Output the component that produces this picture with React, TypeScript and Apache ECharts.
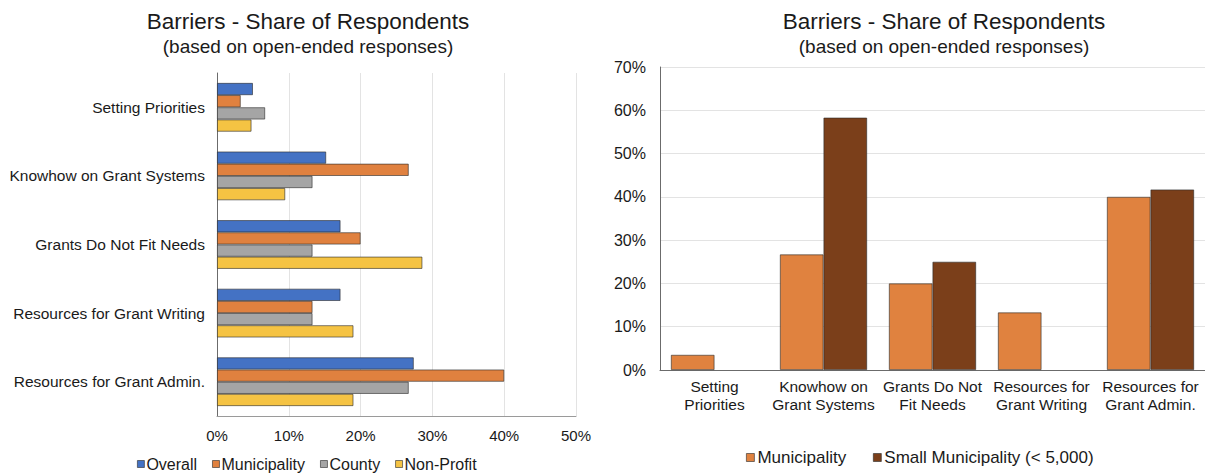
import React, { useEffect, useRef } from "react";
import * as echarts from "echarts";

// Barrier categories (left: horizontal bars, right: column chart)
const barrierLabels = [
  "Setting Priorities",
  "Knowhow on Grant Systems",
  "Grants Do Not Fit Needs",
  "Resources for Grant Writing",
  "Resources for Grant Admin.",
];
const barrierLabelsWrapped = [
  "Setting\nPriorities",
  "Knowhow on\nGrant Systems",
  "Grants Do Not\nFit Needs",
  "Resources for\nGrant Writing",
  "Resources for\nGrant Admin.",
];

// Share of respondents (%) by respondent type
const overall = [5.0, 15.2, 17.2, 17.2, 27.4];
const municipality = [3.3, 26.7, 20.0, 13.3, 40.0];
const county = [6.7, 13.3, 13.3, 13.3, 26.7];
const nonProfit = [4.8, 9.5, 28.6, 19.0, 19.0];

// Municipality vs. small municipalities (%)
const municipalityRight = [3.5, 26.7, 20.0, 13.3, 40.0];
const smallMunicipality = [0, 58.3, 25.0, 0, 41.7];

const xTicksLeft = { min: 0, max: 50, interval: 10 };
const yTicksRight = { min: 0, max: 70, interval: 10 };

const FONT = "'Liberation Sans', Arial, Helvetica, sans-serif";
const TEXT = "#1a1a1a";
const GRID = "#e3e3e3";
const AXIS = "#6b6b6b";
const BORDER = "rgba(40,40,40,0.75)";

// zero shares have no bar at all
const bars = (values: number[]) => values.map((v) => (v === 0 ? null : v));

export default function App() {
  const ref = useRef<HTMLDivElement>(null);

  useEffect(() => {
    if (!ref.current) return;
    const chart = echarts.init(ref.current, null, { renderer: "svg" });

    const leftSeries = [
      { name: "Overall", data: overall, color: "#4472C4" },
      { name: "Municipality", data: municipality, color: "#E0813F" },
      { name: "County", data: county, color: "#A5A5A5" },
      { name: "Non-Profit", data: nonProfit, color: "#F5C343" },
    ].map((s) => ({
      type: "bar" as const,
      name: s.name,
      xAxisIndex: 0,
      yAxisIndex: 0,
      data: bars(s.data),
      barGap: "0%",
      barCategoryGap: "29%",
      itemStyle: { color: s.color, borderColor: BORDER, borderWidth: 0.8 },
    }));

    const rightSeries = [
      { name: "Municipality ", data: municipalityRight, color: "#E0823F" },
      { name: "Small Municipality (< 5,000)", data: smallMunicipality, color: "#7B3F1A" },
    ].map((s) => ({
      type: "bar" as const,
      name: s.name,
      xAxisIndex: 1,
      yAxisIndex: 1,
      data: bars(s.data),
      barGap: "0%",
      barCategoryGap: "20%",
      itemStyle: { color: s.color, borderColor: BORDER, borderWidth: 0.8 },
    }));

    const titleStyle = { fontFamily: FONT, fontSize: 22.5, fontWeight: "normal" as const, color: TEXT };
    const subStyle = { fontFamily: FONT, fontSize: 19, color: TEXT };

    chart.setOption({
      animation: false,
      backgroundColor: "#ffffff",
      textStyle: { fontFamily: FONT, color: TEXT },
      title: [
        {
          text: "Barriers - Share of Respondents",
          subtext: "(based on open-ended responses)",
          left: 303,
          top: 5,
          textAlign: "center",
          itemGap: 4,
          textStyle: titleStyle,
          subtextStyle: subStyle,
        },
        {
          text: "Barriers - Share of Respondents",
          subtext: "(based on open-ended responses)",
          left: 939,
          top: 5,
          textAlign: "center",
          itemGap: 4,
          textStyle: titleStyle,
          subtextStyle: subStyle,
        },
      ],
      legend: [
        {
          data: ["Overall", "Municipality", "County", "Non-Profit"],
          left: 132,
          top: 451,
          itemWidth: 7,
          itemHeight: 7,
          itemGap: 15,
          icon: "rect",
          itemStyle: { borderColor: BORDER, borderWidth: 0.8 },
          textStyle: { fontFamily: FONT, fontSize: 16, color: TEXT, padding: [0, 0, 0, -3] },
        },
        {
          data: ["Municipality ", "Small Municipality (< 5,000)"],
          left: 741,
          top: 444,
          itemWidth: 8,
          itemHeight: 8,
          itemGap: 22,
          icon: "rect",
          itemStyle: { borderColor: BORDER, borderWidth: 0.8 },
          textStyle: { fontFamily: FONT, fontSize: 17, color: TEXT, padding: [0, 0, 0, -2] },
        },
      ],
      grid: [
        { left: 217, right: 629, top: 73, bottom: 58 },
        { left: 660, right: -6, top: 67, bottom: 104 },
      ],
      xAxis: [
        {
          type: "value",
          gridIndex: 0,
          min: xTicksLeft.min,
          max: xTicksLeft.max,
          interval: xTicksLeft.interval,
          axisLine: { show: true, lineStyle: { color: "#9a9a9a", width: 1 } },
          axisTick: { show: false },
          splitLine: { show: true, lineStyle: { color: GRID, width: 1 } },
          axisLabel: { formatter: "{value}%", fontSize: 15, color: TEXT, margin: 12, fontFamily: FONT },
        },
        {
          type: "category",
          gridIndex: 1,
          data: barrierLabelsWrapped,
          axisLine: { show: true, lineStyle: { color: AXIS, width: 1 } },
          axisTick: { show: false },
          axisLabel: {
            fontSize: 15.5,
            color: TEXT,
            margin: 7,
            lineHeight: 18,
            interval: 0,
            fontFamily: FONT,
          },
        },
      ],
      yAxis: [
        {
          type: "category",
          gridIndex: 0,
          inverse: true,
          data: barrierLabels,
          axisLine: { show: true, lineStyle: { color: AXIS, width: 1 } },
          axisTick: { show: false },
          axisLabel: { fontSize: 15.5, color: TEXT, margin: 12, fontFamily: FONT },
        },
        {
          type: "value",
          gridIndex: 1,
          min: yTicksRight.min,
          max: yTicksRight.max,
          interval: yTicksRight.interval,
          axisLine: { show: true, lineStyle: { color: AXIS, width: 1 } },
          axisTick: { show: false },
          splitLine: { show: true, lineStyle: { color: GRID, width: 1 } },
          axisLabel: { formatter: "{value}%", fontSize: 16, color: TEXT, margin: 14, fontFamily: FONT },
        },
      ],
      series: [...leftSeries, ...rightSeries],
    });

    return () => chart.dispose();
  }, []);

  return (
    <div
      ref={ref}
      style={{ position: "fixed", left: 0, top: 0, width: 1205, height: 474 }}
    />
  );
}
